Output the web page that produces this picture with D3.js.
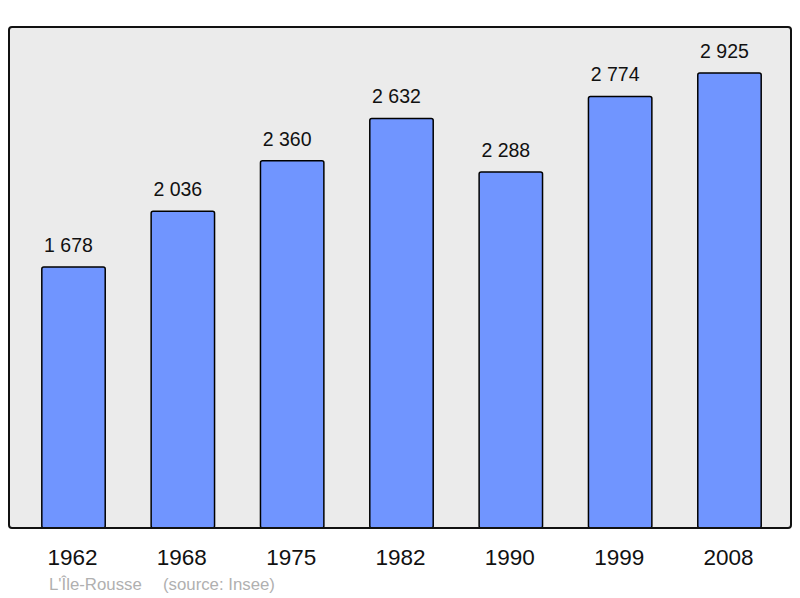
<!DOCTYPE html>
<html>
<head>
<meta charset="utf-8">
<script src="https://cdn.jsdelivr.net/npm/d3@7"></script>
<style>
body { margin: 0; background: #fff; }
text { font-family: "Liberation Sans", Arial, sans-serif; }
</style>
</head>
<body>
<script>
// population by census year
var years = ["1962", "1968", "1975", "1982", "1990", "1999", "2008"];
var population = [1678, 2036, 2360, 2632, 2288, 2774, 2925];
var townName = "L'Île-Rousse";
var sourceText = "(source: Insee)";

var svg = d3.select("body").append("svg")
    .attr("width", 800)
    .attr("height", 598);

var x = d3.scaleBand()
    .domain(years)
    .range([18.85, 784.15])
    .paddingInner(0.42)
    .paddingOuter(0.21);

var y = d3.scaleLinear()
    .domain([0, 3220])
    .range([528, 27]);

// plot frame
svg.append("rect")
    .attr("x", 9)
    .attr("y", 27)
    .attr("width", 782)
    .attr("height", 501)
    .attr("rx", 3)
    .attr("fill", "#ebebeb")
    .attr("stroke", "none");

var bars = svg.selectAll(".bar")
    .data(population)
    .enter()
    .append("rect")
    .attr("class", "bar");
bars.attr("x", function(d, i) { return x(years[i]); })
    .attr("y", function(d) { return y(d); })
    .attr("width", x.bandwidth())
    .attr("height", function(d) { return y(0) - y(d); })
    .attr("rx", 2)
    .attr("fill", "#7095ff")
    .attr("stroke", "#000")
    .attr("stroke-width", 1.5);

svg.append("rect")
    .attr("x", 9)
    .attr("y", 27)
    .attr("width", 782)
    .attr("height", 501)
    .attr("rx", 3)
    .attr("fill", "none")
    .attr("stroke", "#111")
    .attr("stroke-width", 2);

var fmt = function(v) { return d3.format(",")(v).replace(",", " "); };

svg.selectAll(".val")
    .data(population)
    .enter()
    .append("text")
    .attr("class", "val")
    .attr("text-anchor", "middle")
    .attr("x", function(d, i) { return x(years[i]) + x.bandwidth() / 2 - 5; })
    .attr("y", function(d) { return y(d) - 15; })
    .attr("font-size", 19.5)
    .attr("fill", "#111")
    .text(fmt);

svg.selectAll(".year")
    .data(years)
    .enter()
    .append("text")
    .attr("class", "year")
    .attr("text-anchor", "middle")
    .attr("x", function(d) { return x(d) + x.bandwidth() / 2 - 1; })
    .attr("y", 565)
    .attr("font-size", 22.5)
    .attr("fill", "#111")
    .text(function(d) { return d; });

svg.append("text").text(townName)
    .attr("x", 49)
    .attr("y", 590)
    .attr("font-size", 16.8)
    .attr("fill", "#b0b0b0");

svg.append("text").text(sourceText)
    .attr("x", 163)
    .attr("y", 590)
    .attr("font-size", 16.8)
    .attr("fill", "#b0b0b0");
</script>
</body>
</html>
